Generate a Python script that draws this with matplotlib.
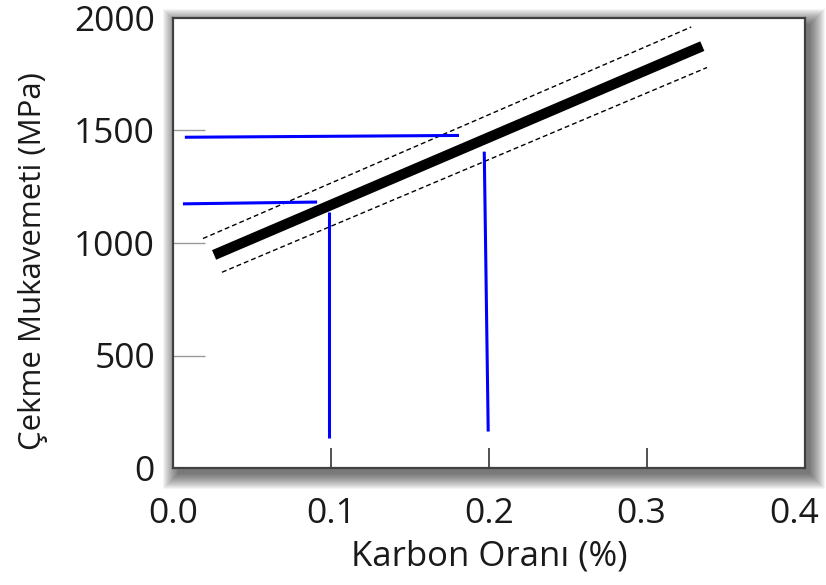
import matplotlib
matplotlib.use("Agg")
import matplotlib.pyplot as plt
import matplotlib.transforms as mtransforms
from matplotlib.patches import Rectangle

# ---- data ----
fit_x = [0.026, 0.335]
fit_y = [947, 1875]
upper_x = [0.019, 0.328]
upper_y = [1020, 1960]
lower_x = [0.031, 0.338]
lower_y = [870, 1780]

guide_h1_x = [0.0075, 0.181]
guide_h1_y = [1470, 1478]
guide_v1_x = [0.197, 0.1995]
guide_v1_y = [1406, 162]
guide_h2_x = [0.0063, 0.0912]
guide_h2_y = [1174, 1182]
guide_v2_x = [0.0987, 0.0987]
guide_v2_y = [1138, 134]

x_ticks = [0.0, 0.1, 0.2, 0.3, 0.4]
x_ticklabels = ["0.0", "0.1", "0.2", "0.3", "0.4"]
y_ticks = [0, 500, 1000, 1500, 2000]
y_ticklabels = ["0", "500", "1000", "1500", "2000"]
x_label = "Karbon Oranı (%)"
y_label = "Çekme Mukavemeti (MPa)"

plt.rcParams['font.family'] = ['Open Sans', 'DejaVu Sans']

W, H = 826, 585
fig = plt.figure(figsize=(W / 100, H / 100), dpi=100)
L, R, B, T = 173, 805, 468, 18
ax = fig.add_axes([L / W, (H - B) / H, (R - L) / W, (B - T) / H])

# soft drop shadow behind the frame
sx, sy = 5, 6
for k in range(16):
    fig.add_artist(Rectangle(((L + sx - k) / W, (H - B - sy - k) / H),
                             (R - L + 2 * k) / W, (B - T + 2 * k) / H,
                             transform=fig.transFigure, facecolor='black',
                             edgecolor='none', alpha=0.042, zorder=-2))

ax.plot(fit_x, fit_y, color='black', lw=7.5, solid_capstyle='butt')
ax.plot(upper_x, upper_y, color='black', lw=1.0, ls=(0, (3.5, 2.2)))
ax.plot(lower_x, lower_y, color='black', lw=1.0, ls=(0, (3.5, 2.2)))

for gx, gy in [(guide_h1_x, guide_h1_y), (guide_v1_x, guide_v1_y),
               (guide_h2_x, guide_h2_y), (guide_v2_x, guide_v2_y)]:
    ax.plot(gx, gy, color='#0000ff', lw=2.2, solid_capstyle='butt')

ax.set_xlim(0, 0.4)
ax.set_ylim(0, 2000)
ax.set_xticks(x_ticks)
ax.set_xticklabels(x_ticklabels)
ax.set_yticks(y_ticks)
ax.set_yticklabels(y_ticklabels)
ax.tick_params(axis='x', direction='in', length=14.5, width=1.2, color='#333333',
               pad=21, labelsize=25.5, labelcolor='#1a1a1a')
ax.tick_params(axis='y', direction='in', length=23, width=1.0, color='#999999',
               pad=13, labelsize=25.5, labelcolor='#1a1a1a')
for t in ax.xaxis.get_major_ticks():
    if t.get_loc() in (0.0, 0.4):
        t.tick1line.set_visible(False)
for t in ax.yaxis.get_major_ticks():
    if t.get_loc() in (0, 2000):
        t.tick1line.set_visible(False)

# small horizontal nudges of the outer tick labels, as in the reference
shifts = {"0.3": -6, "0.4": -11}
for lab in ax.get_xticklabels():
    dx = shifts.get(lab.get_text(), 0)
    if dx:
        lab.set_transform(lab.get_transform() +
                          mtransforms.ScaledTranslation(dx / 100, 0, fig.dpi_scale_trans))

for s in ax.spines.values():
    s.set_color('#404040')
    s.set_linewidth(1.6)

ax.set_xlabel(x_label, fontsize=25, color='#1a1a1a', labelpad=6)
ax.set_ylabel(y_label, fontsize=22.5, color='#1a1a1a')
ax.yaxis.label.set_va('center')
ax.yaxis.set_label_coords((33 - L) / (R - L), (B - 261) / (B - T))

fig.savefig("out.png", dpi=100, facecolor='white')
